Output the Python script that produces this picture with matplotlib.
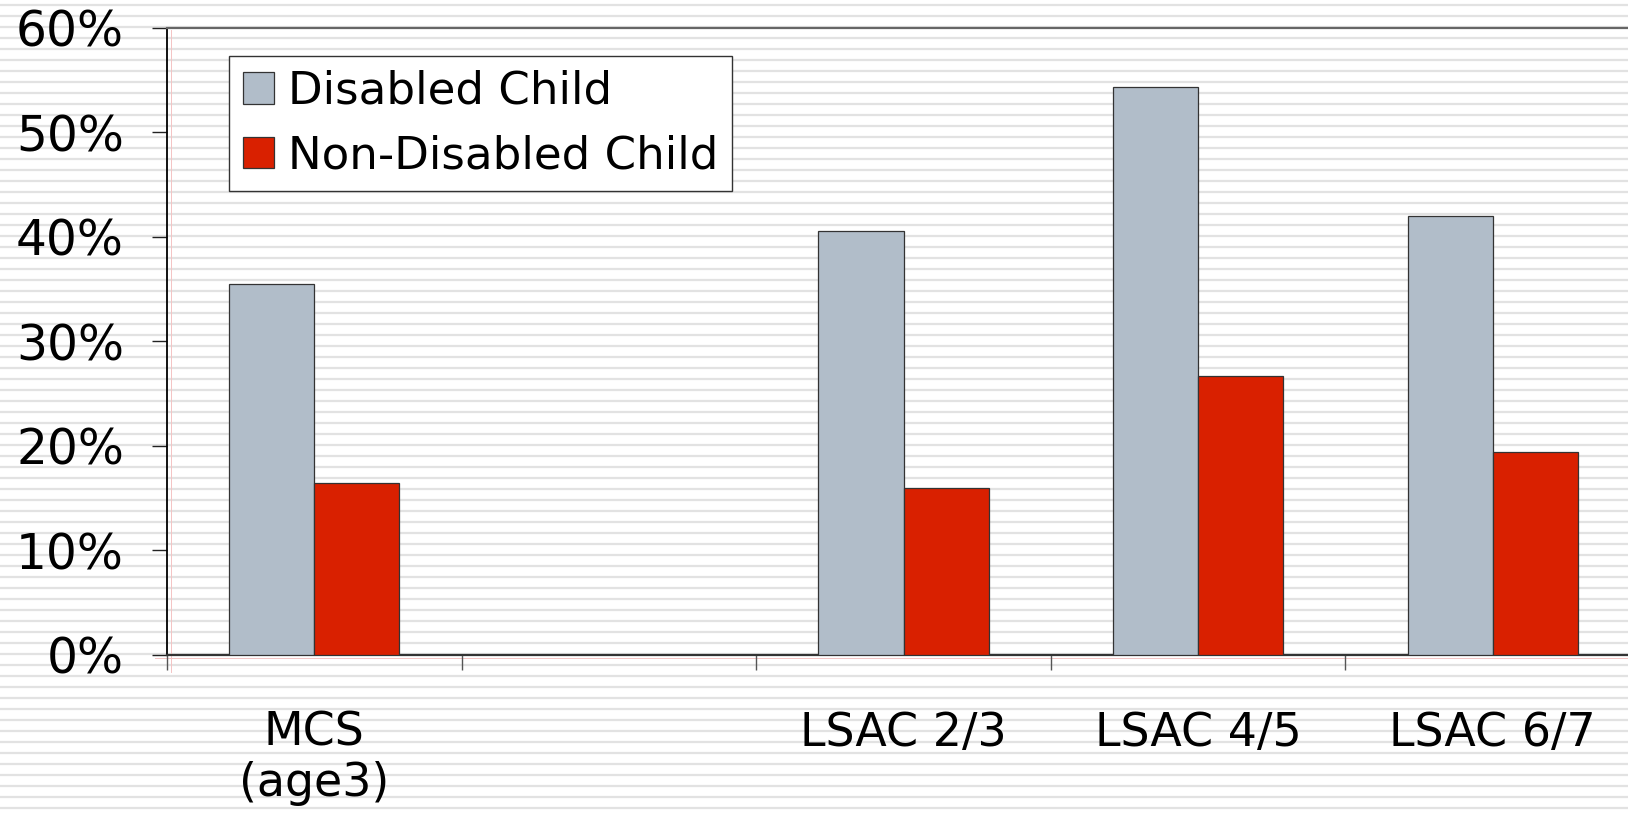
import numpy as np
import matplotlib
matplotlib.use("Agg")
from matplotlib import pyplot as plt
from matplotlib.ticker import FuncFormatter, FixedLocator

# data
categories = ['MCS\n(age3)', '', 'LSAC 2/3', 'LSAC 4/5', 'LSAC 6/7']
disabled = [0.355, np.nan, 0.405, 0.543, 0.420]
non_disabled = [0.164, np.nan, 0.160, 0.267, 0.194]
series_names = ['Disabled Child', 'Non-Disabled Child']

W, H = 1628, 817
fig = plt.figure(figsize=(W / 100, H / 100), dpi=100)
plt.rcParams['font.family'] = ['DejaVu Sans']

# striped slide background
bg = fig.add_axes([0, 0, 1, 1], zorder=-5)
bg.set_xlim(0, W)
bg.set_ylim(H, 0)
bg.hlines(np.arange(5, H, 11), 0, W, color='#e2e2e2', lw=1.6)
bg.axis('off')

left, right, top, bottom = 167, 1640, 27.5, 655
ax = fig.add_axes([left / W, (H - bottom) / H, (right - left) / W, (bottom - top) / H])
ax.set_facecolor('none')

x = np.arange(len(categories))
w = 0.289
ax.bar(x - w / 2, disabled, w, color='#b1bdc9', edgecolor='#333333', lw=0.9, label=series_names[0], zorder=3)
ax.bar(x + w / 2, non_disabled, w, color='#d92000', edgecolor='#333333', lw=0.9, label=series_names[1], zorder=3)

ax.set_xlim(-0.5, len(categories) - 0.5)
ax.set_ylim(0, 0.6)
ax.set_yticks(np.arange(0, 0.61, 0.1))
ax.yaxis.set_major_formatter(FuncFormatter(lambda v, p: '{:.0f}%'.format(v * 100)))

# ticks at category boundaries, labels at centres
ax.xaxis.set_major_locator(FixedLocator(np.arange(-0.5, len(categories), 1.0)))
ax.xaxis.set_major_formatter(FuncFormatter(lambda v, p: ''))
ax.set_xticks(x, minor=True)
ax.set_xticklabels(categories, minor=True, fontsize=33, linespacing=1.15)
ax.tick_params(axis='x', which='minor', length=0, pad=40)
ax.tick_params(axis='x', which='major', length=11, width=1.0, color='#555555', direction='out')
ax.tick_params(axis='y', length=11, width=1.0, color='#222222', direction='out', labelsize=35, pad=20)

ax.spines['right'].set_visible(False)
ax.spines['left'].set_color('black')
ax.spines['left'].set_linewidth(1.3)
ax.spines['bottom'].set_color('#333333')
ax.spines['bottom'].set_linewidth(1.6)
ax.spines['top'].set_color('#666666')
ax.spines['top'].set_linewidth(1.6)

# faint pink ghost axis lines
fig.add_artist(plt.Line2D([171 / W, 171 / W], [1 - 30 / H, 1 - 672 / H], color='#f4c4c4', lw=0.7, zorder=0))
fig.add_artist(plt.Line2D([155 / W, 1], [1 - 658 / H, 1 - 658 / H], color='#f4c4c4', lw=0.7, zorder=0))

leg = ax.legend(loc='upper left', bbox_to_anchor=(229 / W, 1 - 56 / H), bbox_transform=fig.transFigure,
                fontsize=32.5, frameon=True, fancybox=False, framealpha=1, edgecolor='#333333',
                handlelength=0.7, handleheight=0.7, handletextpad=0.3, labelspacing=0.48,
                borderpad=0.3, borderaxespad=0)
leg.get_frame().set_linewidth(1.0)

fig.savefig('out.png', dpi=100)
